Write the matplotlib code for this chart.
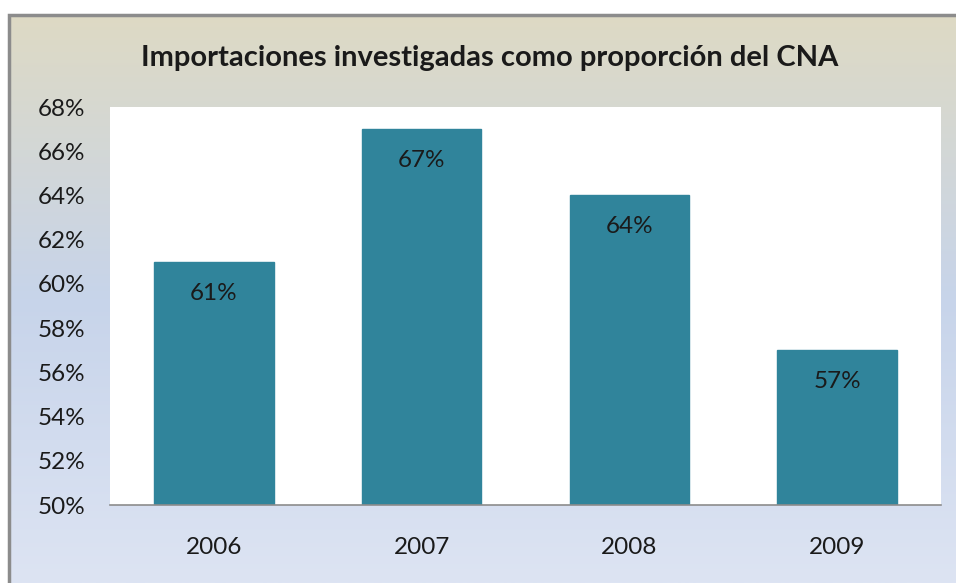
import numpy as np
import matplotlib.pyplot as plt
from matplotlib.colors import LinearSegmentedColormap
from matplotlib.ticker import FuncFormatter

# data
years = ['2006', '2007', '2008', '2009']
shares = [61, 67, 64, 57]
labels = ['61%', '67%', '64%', '57%']

plt.rcParams['font.family'] = ['Lato', 'DejaVu Sans']

fig = plt.figure(figsize=(9.56, 5.83), dpi=100)
W, H = 956, 583

# background gradient of the chart area
bg = fig.add_axes([0, 0, 1, 1], zorder=0)
bg.set_xlim(0, W)
bg.set_ylim(H, 0)
bg.axis('off')
cmap = LinearSegmentedColormap.from_list(
    'bg', [(0.0, '#dedac4'), (0.5, '#c7d4ea'), (1.0, '#dde4f3')])
grad = np.linspace(0, 1, 256).reshape(-1, 1)
bg.imshow(grad, cmap=cmap, aspect='auto', extent=[8, W, H, 14])
# only the top and left edges of the chart frame are visible
bg.plot([9, 9, W], [H, 15, 15], color='#8c8c8c', linewidth=2.5,
        solid_joinstyle='miter')
bg.set_xlim(0, W)
bg.set_ylim(H, 0)
bg.text(490, 58, 'Importaciones investigadas como proporción del CNA',
        ha='center', va='center', fontsize=21, fontweight='bold', color='#1a1a1a')

# plot area
ax = fig.add_axes([110 / W, 1 - 505 / H, (941 - 110) / W, (505 - 107) / H], zorder=1)
ax.set_facecolor('white')
x = np.arange(len(years))
ax.bar(x, [s - 50 for s in shares], bottom=50, width=0.575,
       color='#30849b', edgecolor='#30849b')
for xi, s, lab in zip(x, shares, labels):
    ax.text(xi, s - 0.95, lab, ha='center', va='top', fontsize=17.5, color='#1a1a1a')

ax.set_xlim(-0.5, 3.5)
ax.set_ylim(50, 68)
ax.set_yticks(range(50, 69, 2))
ax.yaxis.set_major_formatter(FuncFormatter(lambda v, p: f'{v:.0f}%'))
ax.set_xticks(x)
ax.set_xticklabels(years)
ax.tick_params(axis='both', length=0, labelsize=17.5, colors='#1a1a1a')
ax.tick_params(axis='x', pad=23)
ax.tick_params(axis='y', pad=18)
for side in ['top', 'right', 'left']:
    ax.spines[side].set_visible(False)
ax.spines['bottom'].set_color('#8c8c8c')
ax.spines['bottom'].set_linewidth(1.2)

plt.savefig('out.png', dpi=100)
